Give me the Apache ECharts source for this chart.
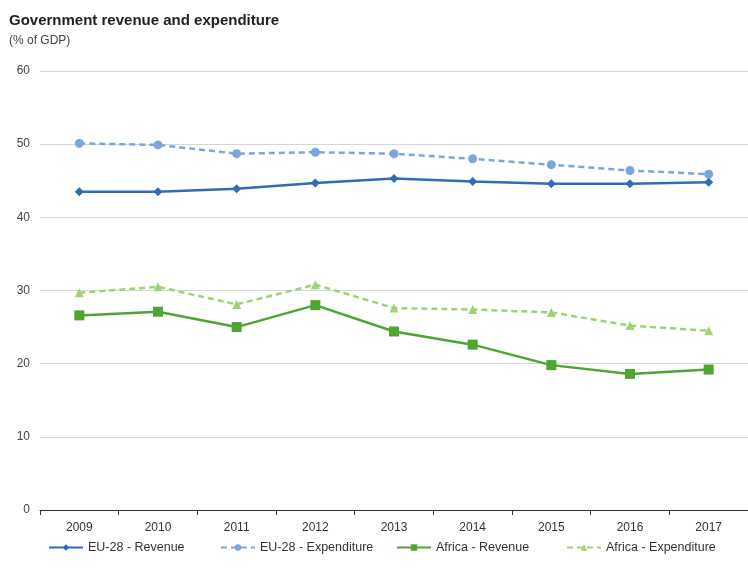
<!DOCTYPE html>
<html>
<head>
<meta charset="utf-8">
<script src="https://cdn.jsdelivr.net/npm/echarts@6/dist/echarts.min.js"></script>
<style>
  html, body { margin: 0; padding: 0; background: #fff; }
  #chart { width: 748px; height: 576px; }
</style>
</head>
<body>
<div id="chart"></div>
<script>
// Government revenue and expenditure, % of GDP
const years = ['2009', '2010', '2011', '2012', '2013', '2014', '2015', '2016', '2017'];
const euRevenue     = [43.5, 43.5, 43.9, 44.7, 45.3, 44.9, 44.6, 44.6, 44.8];
const euExpenditure = [50.1, 49.9, 48.7, 48.9, 48.7, 48.0, 47.2, 46.4, 45.9];
const afRevenue     = [26.6, 27.1, 25.0, 28.0, 24.4, 22.6, 19.8, 18.6, 19.2];
const afExpenditure = [29.7, 30.5, 28.1, 30.8, 27.6, 27.4, 27.0, 25.2, 24.5];
const seriesNames = ['EU-28 - Revenue', 'EU-28 - Expenditure', 'Africa - Revenue', 'Africa - Expenditure'];

const FONT = "'Liberation Sans', Arial, sans-serif";

function lineSeries(name, data, color, dashed, symbol, size) {
  return {
    name: name,
    type: 'line',
    data: data,
    symbol: symbol,
    symbolSize: size,
    color: color,
    lineStyle: { color: color, width: 2.5, type: dashed ? [6, 4] : 'solid' },
    itemStyle: { color: color },
    emphasis: { disabled: true },
    z: dashed ? 2 : 3
  };
}

// one legend block per series, spaced along the bottom row
const legendLeft = [48, 220, 396, 566];
const legends = seriesNames.map(function (name, i) {
  return {
    data: [name],
    left: legendLeft[i],
    bottom: 22,
    padding: 0,
    itemWidth: 34,
    itemHeight: 8,
    itemGap: 0,
    textStyle: { color: '#333', fontSize: 12.5, fontFamily: FONT }
  };
});

const chart = echarts.init(document.getElementById('chart'), null, { renderer: 'canvas' });
chart.setOption({
  animation: false,
  backgroundColor: '#ffffff',
  textStyle: { fontFamily: FONT },
  title: [
    {
      text: 'Government revenue and expenditure',
      left: 9, top: 13, padding: 0,
      textStyle: { fontFamily: FONT, fontSize: 15, fontWeight: 'bold', color: '#222' }
    },
    {
      text: '(% of GDP)',
      left: 9, top: 35, padding: 0,
      textStyle: { fontFamily: FONT, fontSize: 12, fontWeight: 'normal', color: '#444' }
    }
  ],
  grid: { left: 40, right: -3, top: 71, bottom: 66 },
  xAxis: {
    type: 'category',
    data: years,
    boundaryGap: true,
    axisLine: { lineStyle: { color: '#333', width: 1 } },
    axisTick: { show: true, length: 5, lineStyle: { color: '#333' } },
    axisLabel: { color: '#333', fontSize: 12, fontFamily: FONT, margin: 12 }
  },
  yAxis: {
    type: 'value',
    min: 0, max: 60, interval: 10,
    axisLine: { show: false },
    axisTick: { show: false },
    axisLabel: { color: '#444', fontSize: 12, fontFamily: FONT, margin: 10 },
    splitLine: { lineStyle: { color: '#d6d6d6', width: 1 } }
  },
  legend: legends,
  series: [
    lineSeries(seriesNames[0], euRevenue, '#2f6cb5', false, 'diamond', 9),
    lineSeries(seriesNames[1], euExpenditure, '#7aa6de', true, 'circle', 9),
    lineSeries(seriesNames[2], afRevenue, '#4fa531', false, 'rect', 10),
    lineSeries(seriesNames[3], afExpenditure, '#9ed276', true, 'triangle', 9)
  ]
});
</script>
</body>
</html>
